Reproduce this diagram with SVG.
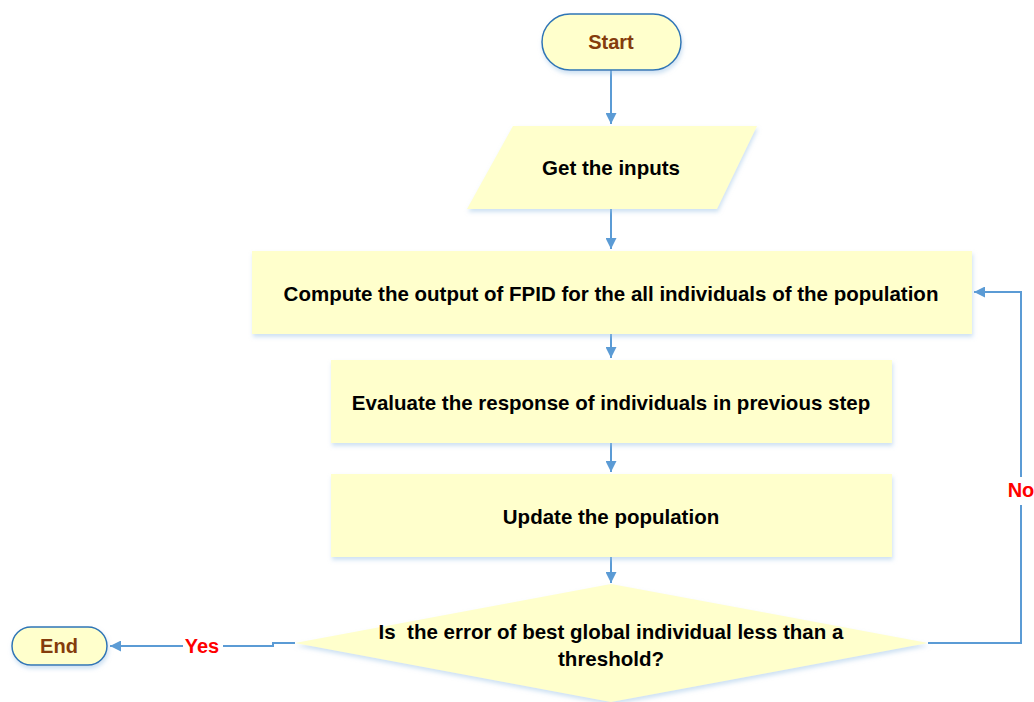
<svg xmlns="http://www.w3.org/2000/svg" width="1034" height="702" viewBox="0 0 1034 702">
<style>
.box{fill:#FFFFCC;filter:url(#sh)}
.term{fill:#FFFFCC;stroke:#2E75B6;stroke-width:1.5;filter:url(#sh)}
.t{font-family:"Liberation Sans",Arial,sans-serif;font-weight:bold;font-size:20.5px;fill:#000;text-anchor:middle;dominant-baseline:central}
.tt{font-family:"Liberation Sans",Arial,sans-serif;font-weight:bold;font-size:20px;fill:#843C0C;text-anchor:middle;dominant-baseline:central}
.lbl{font-family:"Liberation Sans",Arial,sans-serif;font-weight:bold;font-size:20px;fill:#FF0000;text-anchor:middle;dominant-baseline:central}
.c{fill:none;stroke:#5B9BD5;stroke-width:2}
</style>
<defs>
<filter id="sh" x="-10%" y="-10%" width="120%" height="130%">
<feDropShadow dx="1" dy="3" stdDeviation="2" flood-color="#9DC3E6" flood-opacity="0.5"/>
</filter>
<marker id="ah" viewBox="0 0 10 10" refX="10" refY="5" markerWidth="5.5" markerHeight="5.5" orient="auto">
<path d="M0,0 L10,5 L0,10 Z" fill="#5B9BD5"/>
</marker>
</defs>
<g id="connectors">
<path class="c" d="M611,70 V124" marker-end="url(#ah)"/>
<path class="c" d="M611,208 V249" marker-end="url(#ah)"/>
<path class="c" d="M611,334 V358" marker-end="url(#ah)"/>
<path class="c" d="M611,443 V472" marker-end="url(#ah)"/>
<path class="c" d="M611,557 V583" marker-end="url(#ah)"/>
<path class="c" d="M928,643 H1021 V292 H974" marker-end="url(#ah)"/>
<path class="c" d="M295,643 H273 V646 H110" marker-end="url(#ah)"/>
<rect x="1006" y="477" width="30" height="28" fill="#fff"/>
<text class="lbl" x="1021" y="490">No</text>
<rect x="183" y="633" width="40" height="26" fill="#fff"/>
<text class="lbl" x="202" y="646">Yes</text>
</g>
<g id="start">
<rect class="term" x="542" y="14" width="139" height="56" rx="28"/>
<text class="tt" x="611" y="42">Start</text>
</g>
<g id="inputs">
<polygon class="box" points="513,126 757,126 717,209 467,209"/>
<text class="t" x="611" y="167">Get the inputs</text>
</g>
<g id="compute">
<rect class="box" x="252" y="251" width="720" height="83"/>
<text class="t" x="611" y="293">Compute the output of FPID for the all individuals of the population</text>
</g>
<g id="evaluate">
<rect class="box" x="331" y="360" width="561" height="83"/>
<text class="t" x="611" y="402">Evaluate the response of individuals in previous step</text>
</g>
<g id="update">
<rect class="box" x="331" y="474" width="561" height="83"/>
<text class="t" x="611" y="516">Update the population</text>
</g>
<g id="decision">
<polygon class="box" points="611,584 928,643 611,702 295,643"/>
<text class="t" x="611" y="631" xml:space="preserve">Is  the error of best global individual less than a</text>
<text class="t" x="611" y="658">threshold?</text>
</g>
<g id="end">
<rect class="term" x="12" y="627" width="95" height="38" rx="19"/>
<text class="tt" x="59" y="646">End</text>
</g>
</svg>
